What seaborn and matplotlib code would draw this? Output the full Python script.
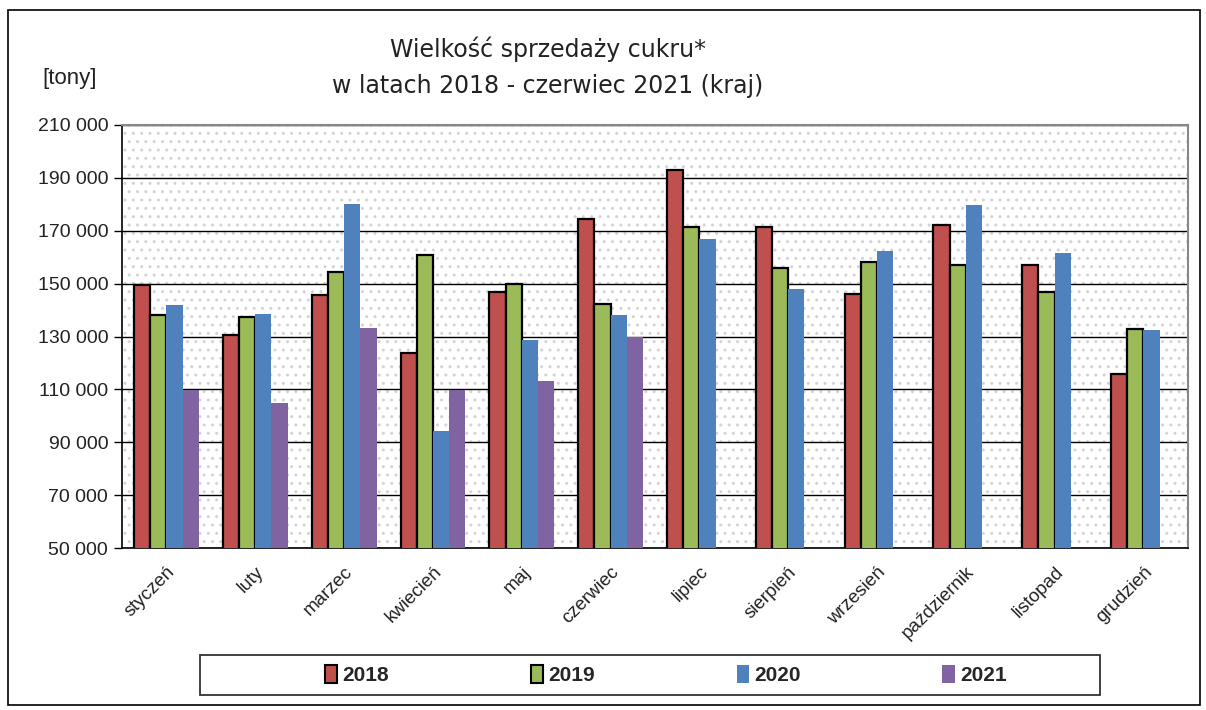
"""
Wykres słupkowy: wielkość sprzedaży cukru w latach 2018 - czerwiec 2021 (kraj).
"""

import numpy as np
import pandas as pd
import matplotlib.pyplot as plt
from matplotlib.patches import Rectangle
from matplotlib.ticker import FuncFormatter
import seaborn as sns

# ─────────────────────────────────────────────
# DANE
# ─────────────────────────────────────────────

miesiace = ["styczeń", "luty", "marzec", "kwiecień", "maj", "czerwiec",
            "lipiec", "sierpień", "wrzesień", "październik", "listopad", "grudzień"]
lata = ["2018", "2019", "2020", "2021"]

sprzedaz_2018 = [149400, 130500, 145800, 123900, 147000, 174300,
                 193000, 171500, 146200, 172300, 156900, 116000]
sprzedaz_2019 = [138100, 137200, 154500, 160700, 149800, 142200,
                 171300, 156000, 158300, 156900, 146700, 133000]
sprzedaz_2020 = [141900, 138600, 180300, 94400, 128700, 138100,
                 166700, 147900, 162400, 179700, 161400, 132500]
sprzedaz_2021 = [109900, 104800, 133400, 109900, 113200, 130000,
                 np.nan, np.nan, np.nan, np.nan, np.nan, np.nan]

kolory = ["#C0504D", "#9BBB59", "#4F81BD", "#8064A2"]
y_ticks = list(range(50000, 210001, 20000))

# ─────────────────────────────────────────────
# WYKRES
# ─────────────────────────────────────────────

df = pd.DataFrame({
    "miesiac": miesiace * 4,
    "rok": [r for r in lata for _ in miesiace],
    "tony": sprzedaz_2018 + sprzedaz_2019 + sprzedaz_2020 + sprzedaz_2021,
})

sns.set_theme(style="white")
plt.rcParams["font.family"] = ["Liberation Sans", "DejaVu Sans"]

fig = plt.figure(figsize=(12.06, 7.10), dpi=100)
ax = fig.add_axes([0.1012, 0.228, 0.8838, 0.596])

# tło w kropki
ax.set_facecolor("white")
ax.patch.set_hatch("..")
ax.patch.set_edgecolor("#d4d4d4")
ax.patch.set_linewidth(0)

sns.barplot(data=df, x="miesiac", y="tony", hue="rok", order=miesiace,
            hue_order=lata, palette=kolory, saturation=1, width=0.73, gap=0,
            linewidth=0, ax=ax, legend=False)

for i, cont in enumerate(ax.containers):
    for bar in cont:
        if i < 2:
            bar.set_edgecolor("black")
            bar.set_linewidth(1.6)
        else:
            bar.set_edgecolor("none")
        bar.set_zorder(3)

ax.set_ylim(50000, 210000)
ax.set_xlim(-0.5, 11.5)
ax.set_yticks(y_ticks)
ax.yaxis.set_major_formatter(FuncFormatter(lambda v, p: f"{int(v):,}".replace(",", " ")))
ax.grid(axis="y", color="black", linewidth=1.0, zorder=1)
ax.set_axisbelow(True)

ax.set_xlabel("")
ax.set_ylabel("")
ax.set_xticks(range(12))
ax.set_xticklabels(miesiace, rotation=45, ha="right", rotation_mode="anchor",
                   fontsize=13.5, color="#222222")
ax.set_xticks(np.arange(-0.5, 12, 1), minor=True)
ax.tick_params(axis="x", which="major", length=0, pad=11)
ax.tick_params(axis="x", which="minor", length=6, width=1, color="black", direction="out")
ax.tick_params(axis="y", length=6, width=1, color="black", direction="out",
               labelsize=14, labelcolor="#222222", left=True, pad=4)

for s in ["left", "bottom"]:
    ax.spines[s].set_color("black")
    ax.spines[s].set_linewidth(1.2)
for s in ["top", "right"]:
    ax.spines[s].set_color("#888888")
    ax.spines[s].set_linewidth(1.5)

# legenda (ramka rysowana osobno)
fig.patches.append(Rectangle((200 / 1206, 1 - 695 / 710), 900 / 1206, 40 / 710,
                             transform=fig.transFigure, fill=False,
                             edgecolor="#333333", linewidth=1.3))
uchwyty = [Rectangle((0, 0), 1, 1, facecolor=k,
                     edgecolor="black" if j < 2 else "none", linewidth=1.5)
           for j, k in enumerate(kolory)]
fig.legend(uchwyty, lata, loc="center", bbox_to_anchor=(0.552, 0.049),
           ncol=4, frameon=False, handlelength=0.6, handleheight=0.9,
           handletextpad=0.25, columnspacing=6.8,
           prop={"weight": "bold", "size": 15})

# tytuł i jednostka
fig.text(0.454, 0.905, "Wielkość sprzedaży cukru*\nw latach 2018 - czerwiec 2021 (kraj)",
         ha="center", va="center", fontsize=17, linespacing=1.6,
         family=["DejaVu Sans"], color="#222222")
fig.text(0.058, 0.89, "[tony]", ha="center", va="center", fontsize=16, color="#222222")

# ramka wokół wykresu
fig.patches.append(Rectangle((0.007, 0.007), 0.988, 0.979, transform=fig.transFigure,
                             fill=False, edgecolor="black", linewidth=1.2))

fig.savefig("out.png", dpi=100)
plt.close(fig)
